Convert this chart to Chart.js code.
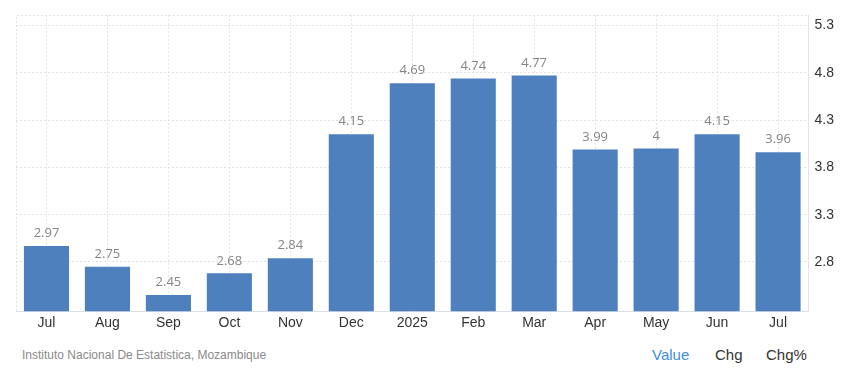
<!DOCTYPE html>
<html>
<head>
<meta charset="utf-8">
<script src="https://cdn.jsdelivr.net/npm/chart.js@4.4.1/dist/chart.umd.min.js"></script>
<style>
  html, body { margin: 0; padding: 0; background: #fff; }
  body { width: 848px; height: 376px; position: relative; overflow: hidden; font-family: "Liberation Sans", Arial, sans-serif; }
  #wrap { position: absolute; left: 0; top: 0; width: 848px; height: 336px; }
  #source { position: absolute; left: 22px; top: 348px; font-size: 12px; color: #8a8a8a; }
  #legend { position: absolute; top: 346px; left: 652px; font-size: 15px; color: #333; }
  #legend span { position: absolute; white-space: nowrap; }
</style>
</head>
<body>
<div id="wrap"><canvas id="chart"></canvas></div>
<div id="source">Instituto Nacional De Estatistica, Mozambique</div>
<div id="legend">
  <span style="left:0; color:#3d8fe0;">Value</span>
  <span style="left:63px;">Chg</span>
  <span style="left:114px;">Chg%</span>
</div>
<script>
const months = ['Jul', 'Aug', 'Sep', 'Oct', 'Nov', 'Dec', '2025', 'Feb', 'Mar', 'Apr', 'May', 'Jun', 'Jul'];
const values = [2.97, 2.75, 2.45, 2.68, 2.84, 4.15, 4.69, 4.74, 4.77, 3.99, 4, 4.15, 3.96];
const yTicks = [2.8, 3.3, 3.8, 4.3, 4.8, 5.3];
const yMin = 2.28;
const yMax = 5.41;

// value labels above each bar
const barLabels = {
  id: 'barLabels',
  afterDatasetsDraw(chart) {
    const ctx = chart.ctx;
    const meta = chart.getDatasetMeta(0);
    ctx.save();
    ctx.font = '13px "Open Sans", sans-serif';
    ctx.fillStyle = '#858585';
    ctx.textAlign = 'center';
    ctx.textBaseline = 'bottom';
    meta.data.forEach((bar, i) => {
      ctx.fillText(String(values[i]), bar.x, bar.y - 6);
    });
    ctx.restore();
  }
};

// dotted frame on top and left of the plot area
const frame = {
  id: 'frame',
  beforeDatasetsDraw(chart) {
    const { ctx, chartArea: a } = chart;
    ctx.save();
    ctx.strokeStyle = '#e2e2e2';
    ctx.lineWidth = 1;
    ctx.setLineDash([2, 2]);
    ctx.beginPath();
    ctx.moveTo(a.left + 0.5, a.bottom);
    ctx.lineTo(a.left + 0.5, a.top + 0.5);
    ctx.lineTo(a.right, a.top + 0.5);
    ctx.stroke();
    ctx.restore();
  }
};

new Chart(document.getElementById('chart'), {
  type: 'bar',
  data: {
    labels: months,
    datasets: [{
      data: values,
      backgroundColor: '#4e80bd',
      barPercentage: 0.74,
      categoryPercentage: 1
    }]
  },
  options: {
    responsive: true,
    maintainAspectRatio: false,
    animation: false,
    layout: { padding: { left: 16, right: 8, top: 15, bottom: 0 } },
    plugins: {
      legend: { display: false },
      tooltip: { enabled: false }
    },
    scales: {
      x: {
        grid: { offset: false, color: '#e6e6e6', drawTicks: false },
        border: { color: '#d9e0ea', dash: [2, 2] },
        ticks: { color: '#333', font: { size: 14, family: '"Liberation Sans", Arial, sans-serif' }, padding: 4 }
      },
      y: {
        position: 'right',
        min: yMin,
        max: yMax,
        afterBuildTicks: (scale) => { scale.ticks = yTicks.map((v) => ({ value: v })); },
        grid: { color: '#e2e2e2', drawTicks: false },
        border: { display: true, color: '#e4e4e4', dash: [2, 2] },
        ticks: {
          padding: 6,
          color: '#333',
          font: { size: 14, family: '"Liberation Sans", Arial, sans-serif' },
          callback: (v) => v.toFixed(1)
        }
      }
    }
  },
  plugins: [barLabels, frame]
});
</script>
</body>
</html>
